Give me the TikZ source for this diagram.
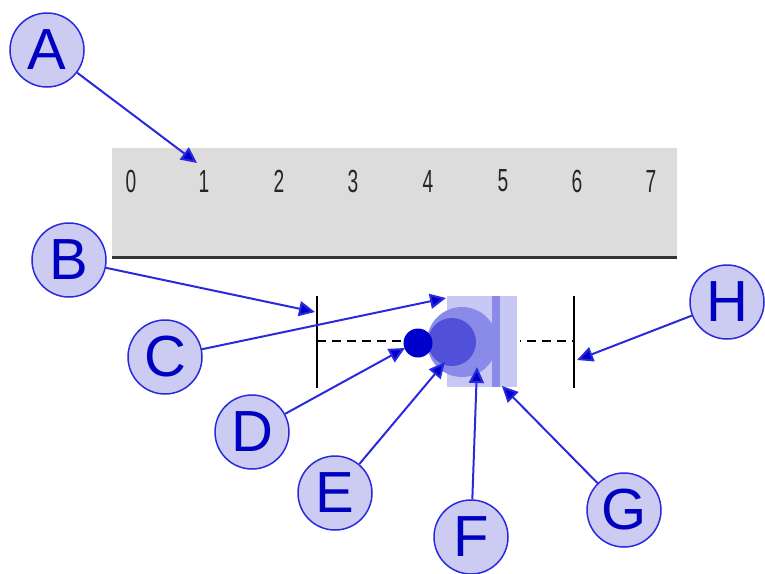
\documentclass[tikz,border=0pt]{standalone}
\usepackage{fontspec}
\usepackage{tikz}
\usetikzlibrary{arrows.meta,positioning}
\newfontfamily\calloutfont{Liberation Sans}
\definecolor{calloutfill}{HTML}{CCCCF2}
\definecolor{calloutline}{HTML}{2A2ADD}
\definecolor{callouttext}{HTML}{0000C0}
\definecolor{rulergray}{HTML}{DCDCDC}
\definecolor{thumbpale}{HTML}{C8C8F4}
\definecolor{thumbmid}{HTML}{8A8AE8}
\definecolor{thumbdeep}{HTML}{5050D8}
\definecolor{thumbdark}{HTML}{0000CC}
\tikzset{
  callout/.style={draw=calloutline,line width=1.5pt,fill=calloutfill,circle,
    minimum size=74pt,inner sep=0pt,text=callouttext,
    font=\calloutfont\fontsize{58}{58}\selectfont},
  pointer/.style={draw=calloutline,line width=2pt,
    -{Triangle[length=16pt,width=15pt,fill=thumbdark]}},
  digit/.style={font=\calloutfont\fontsize{32}{32}\selectfont,inner sep=0pt,text=black!85}
}
\newcommand{\narrow}[1]{\scalebox{0.6}[1]{#1}}

\begin{document}
\begin{tikzpicture}[x=1pt,y=-1pt]
\useasboundingbox (0,0) rectangle (765,573);
% ruler
\fill[rulergray] (112,148) rectangle (677,257);
\draw[line width=3pt,black!80] (112,257) -- (677,257);
\node[digit] (n0) at (131,181) {\narrow{0}};
\node[digit] (n1) at (204,181) {\narrow{1}};
\node[digit] (n2) at (279,181) {\narrow{2}};
\node[digit] (n3) at (353,181) {\narrow{3}};
\node[digit] (n4) at (428,181) {\narrow{4}};
\node[digit] (n5) at (503,181) {\narrow{5}};
\node[digit] (n6) at (577,181) {\narrow{6}};
\node[digit] (n7) at (651,181) {\narrow{7}};
% range
\coordinate (lo) at (317,341);
\coordinate (hi) at (574,341);
\draw[line width=2.5pt] (317,296) -- (317,388);
\draw[line width=2.5pt] (574,296) -- (574,388);
\draw[line width=2.5pt,dash pattern=on 9pt off 6pt] (lo) -- (hi);
% thumb
\fill[white] (402,318) rectangle (520,370);
\fill[thumbpale] (447,296) rectangle (517,387);
\begin{scope}
\clip (400,290) rectangle (492,392);
\fill[thumbmid] (462,342) circle (35);
\end{scope}
\fill[thumbmid] (492,296) rectangle (500,387);
\fill[thumbdeep] (452,342) circle (24);
\fill[thumbdark] (418,343) circle (14.5);
% callouts
\node[callout] (A) at (47,50) {A};
\node[callout] (B) at (69,260) {B};
\node[callout] (C) at (165,357) {C};
\node[callout] (D) at (252,432) {D};
\node[callout] (E) at (335,493) {E};
\node[callout] (F) at (471,537) {F};
\node[callout] (G) at (624,510) {G};
\node[callout] (H) at (727,302) {H};
\coordinate (tA) at (197,163);
\coordinate (tB) at (315,312);
\coordinate (tC) at (446,298);
\coordinate (tD) at (405,348);
\coordinate (tE) at (445,362);
\coordinate (tF) at (477,367);
\coordinate (tG) at (502,386);
\coordinate (tH) at (577,360);
\draw[pointer] (A) -- (tA);
\draw[pointer] (B) -- (tB);
\draw[pointer] (C) -- (tC);
\draw[pointer] (D) -- (tD);
\draw[pointer] (E) -- (tE);
\draw[pointer] (F) -- (tF);
\draw[pointer] (G) -- (tG);
\draw[pointer] (H) -- (tH);
\end{tikzpicture}
\end{document}
